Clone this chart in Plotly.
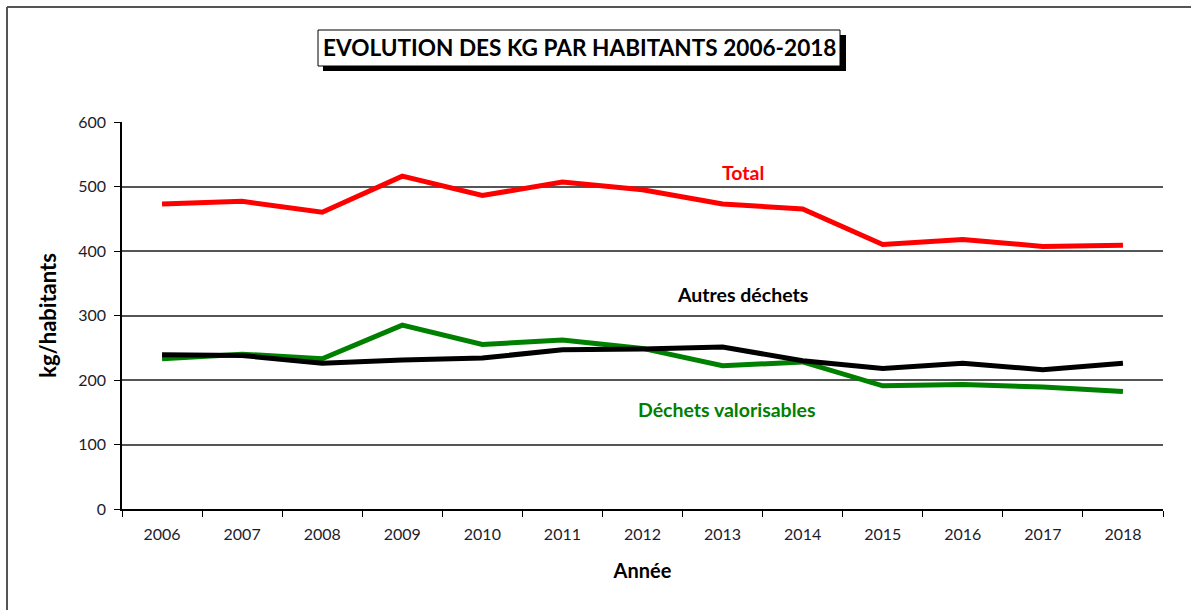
import plotly.graph_objects as go

annees = ["2006", "2007", "2008", "2009", "2010", "2011", "2012",
          "2013", "2014", "2015", "2016", "2017", "2018"]
total = [473, 477, 460, 516, 486, 507, 495, 473, 465, 410, 418, 407, 409]
autres_dechets = [239, 238, 226, 231, 234, 247, 248, 251, 230, 218, 226, 216, 226]
dechets_valorisables = [233, 240, 233, 285, 255, 262, 249, 222, 228, 191, 193, 189, 182]
y_ticks = [0, 100, 200, 300, 400, 500, 600]

W, H = 1191, 610
L, R, T, B = 122, 28, 122, 101
PW, PH = W - L - R, H - T - B


def px(x):
    return (x - L) / PW


def py(y):
    return (H - B - y) / PH


FONT = "Lato"
TXT = "#1c1c2c"

fig = go.Figure()
fig.add_trace(go.Scatter(x=annees, y=total, mode="lines", name="Total",
                         line=dict(color="#ff0000", width=5)))
fig.add_trace(go.Scatter(x=annees, y=dechets_valorisables, mode="lines",
                         name="Déchets valorisables",
                         line=dict(color="#008000", width=5)))
fig.add_trace(go.Scatter(x=annees, y=autres_dechets, mode="lines",
                         name="Autres déchets",
                         line=dict(color="#000000", width=5)))

shapes = [
    # outer frame
    dict(type="line", xref="paper", yref="paper", x0=px(7), x1=px(1200),
         y0=py(7), y1=py(7), line=dict(color="#555555", width=2)),
    dict(type="line", xref="paper", yref="paper", x0=px(7), x1=px(7),
         y0=py(7), y1=py(620), line=dict(color="#555555", width=2)),
    # title shadow and box
    dict(type="rect", xref="paper", yref="paper", x0=px(323), x1=px(846),
         y0=py(35), y1=py(71), fillcolor="#000000", line=dict(width=0)),
    dict(type="rect", xref="paper", yref="paper", x0=px(318), x1=px(840),
         y0=py(30), y1=py(66), fillcolor="#ffffff",
         line=dict(color="#000000", width=1)),
]

annotations = [
    dict(xref="paper", yref="paper", x=px(579), y=py(48),
         xanchor="center", yanchor="middle",
         text="<b>EVOLUTION DES KG PAR HABITANTS 2006-2018</b>",
         showarrow=False, font=dict(family=FONT, size=22.6, color="#000000")),
    dict(x=7.25, y=522, text="<b>Total</b>", showarrow=False,
         xanchor="center", yanchor="middle",
         font=dict(family=FONT, size=19.5, color="#ff0000")),
    dict(x=7.25, y=332, text="<b>Autres déchets</b>", showarrow=False,
         xanchor="center", yanchor="middle",
         font=dict(family=FONT, size=19.5, color="#000000")),
    dict(x=7.06, y=155, text="<b>Déchets valorisables</b>", showarrow=False,
         xanchor="center", yanchor="middle",
         font=dict(family=FONT, size=19.5, color="#008000")),
]

fig.update_layout(
    width=W, height=H,
    margin=dict(l=L, r=R, t=T, b=B),
    paper_bgcolor="#ffffff", plot_bgcolor="#ffffff",
    showlegend=False,
    shapes=shapes,
    annotations=annotations,
    xaxis=dict(
        type="category", range=[-0.5, 12.5],
        tickmode="array", tickvals=annees, ticktext=annees,
        tickson="boundaries", ticks="outside", ticklen=6, tickcolor="#000000",
        showgrid=False, showline=True, linecolor="#000000", linewidth=1.5,
        tickfont=dict(family=FONT, size=16, color=TXT),
        ticklabelstandoff=10,
        title=dict(text="<b>Année</b>", standoff=22,
                   font=dict(family=FONT, size=20, color="#000000")),
        zeroline=False,
    ),
    yaxis=dict(
        range=[0, 600], tickmode="array", tickvals=y_ticks,
        ticks="outside", ticklen=6, tickcolor="#000000",
        showgrid=True, gridcolor="#555555", gridwidth=1.5,
        showline=True, linecolor="#000000", linewidth=1.5,
        tickfont=dict(family=FONT, size=16, color=TXT),
        ticklabelstandoff=5,
        title=dict(text="<b>kg/habitants</b>", standoff=16,
                   font=dict(family=FONT, size=22, color="#000000")),
        zeroline=False,
    ),
)

fig.write_html("out.html",
               config={"displayModeBar": False},
               post_script="document.body.style.margin='0px';"
                           "document.body.style.overflow='hidden';")
